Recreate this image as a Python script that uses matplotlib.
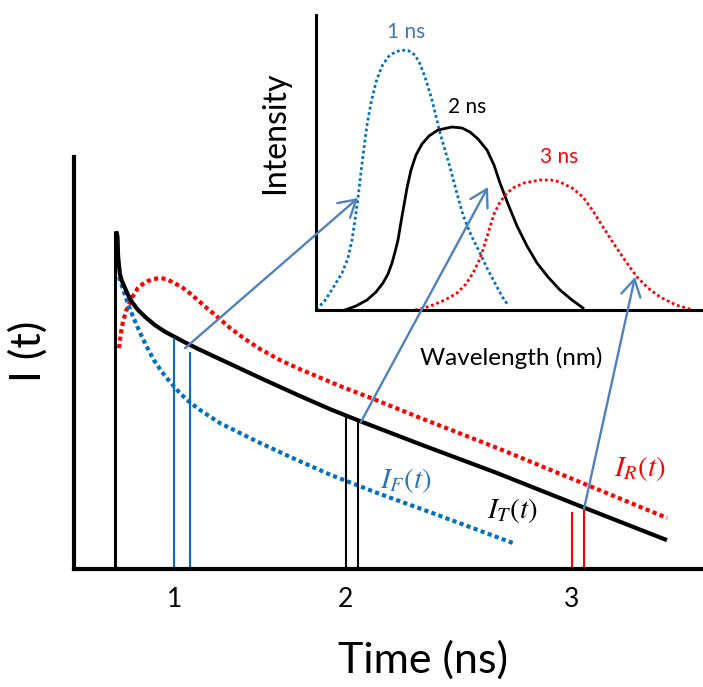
import matplotlib
matplotlib.use("Agg")
import matplotlib.pyplot as plt
from matplotlib.patches import ConnectionPatch

plt.rcParams['font.family'] = ['Lato', 'DejaVu Sans']
plt.rcParams['mathtext.fontset'] = 'stix'

# ---- time-resolved decay curves (time in ns, intensity in a.u.) ----
t_total = [0.655, 0.662, 0.665, 0.671, 0.676, 0.688, 0.706, 0.724, 0.747, 0.782,
           0.824, 0.882, 0.941, 1.000, 1.059, 1.147, 1.235, 1.324, 1.500, 1.735,
           1.912, 2.088, 2.441, 2.894, 3.412, 3.894]
i_total = [82.0, 80.6, 76.2, 73.5, 71.6, 69.9, 68.2, 66.5, 64.8, 62.9,
           61.2, 59.2, 57.6, 56.3, 55.0, 53.2, 51.5, 49.8, 46.4, 42.0,
           38.8, 35.9, 30.3, 23.3, 14.8, 7.0]

t_relaxed = [0.671, 0.682, 0.694, 0.712, 0.735, 0.759, 0.782, 0.812, 0.841, 0.876,
             0.912, 0.947, 0.982, 1.018, 1.047, 1.094, 1.147, 1.188, 1.235, 1.324,
             1.412, 1.500, 1.618, 1.735, 1.971, 2.165, 2.441, 2.912, 3.441, 3.894]
i_relaxed = [53.6, 57.3, 60.0, 62.6, 64.8, 66.7, 68.2, 69.2, 69.9, 70.4,
             70.6, 70.4, 69.7, 68.9, 68.2, 66.7, 64.8, 63.3, 61.7, 58.5,
             55.8, 53.4, 50.7, 48.5, 44.4, 41.3, 36.7, 29.1, 20.1, 12.4]

t_franck = [0.671, 0.688, 0.706, 0.724, 0.747, 0.782, 0.812, 0.835, 0.876, 0.924,
            0.971, 1.018, 1.071, 1.147, 1.265, 1.500, 1.694, 1.912, 2.206, 2.500,
            2.988]
i_franck = [70.9, 68.7, 66.5, 64.3, 61.9, 58.5, 55.8, 53.9, 50.7, 47.8,
            45.4, 43.2, 41.0, 38.6, 35.4, 30.6, 26.9, 22.9, 18.2, 13.8,
            6.3]

# excitation pulse
t_pulse = 0.647
i_pulse = 82.0

# gate windows (pairs of times) and the heights of their gate lines
gate_times = [[0.996, 1.088], [2.004, 2.079], [3.337, 3.406]]
gate_tops = [[56.1, 52.7], [37.0, 35.8], [13.8, 14.6]]
gate_colors = ['#0070C0', '#000000', '#FF0000']

tick_times = [1.0, 2.0, 3.335]
tick_labels = ['1', '2', '3']

# ---- time-resolved spectra (wavelength and intensity in a.u.) ----
w_1ns = [0, 8, 17, 26, 32, 36, 39, 42, 45, 48, 51, 55, 60, 66, 72, 79, 86, 93,
         99, 104, 109, 116, 124, 134, 140, 147, 155, 164, 172, 181, 187, 192]
s_1ns = [1, 8, 22, 37, 52, 70, 90, 112, 138, 162, 185, 207, 228, 244, 253, 258, 260, 259,
         255, 246, 233, 210, 177, 143, 120, 95, 75, 57, 40, 23, 12, 5]

w_2ns = [29, 40, 51, 60, 67, 72, 76, 79, 82, 85, 88, 91, 95, 100, 106, 113, 122,
         136, 146, 154, 162, 171, 178, 184, 192, 201, 211, 221, 232, 244, 256, 267]
s_2ns = [0, 4, 10, 18, 27, 36, 47, 58, 70, 88, 105, 122, 140, 155, 166, 174, 180,
         183, 182, 178, 171, 160, 145, 127, 106, 84, 64, 47, 33, 20, 10, 2]

w_3ns = [99, 108, 117, 129, 141, 150, 157, 162, 166, 170, 174, 178, 183, 189, 197, 208,
         224, 235, 244, 256, 267, 277, 287, 296, 304, 313, 321, 332, 344, 360, 377]
s_3ns = [0, 2, 5, 10, 17, 26, 37, 47, 57, 70, 83, 96, 106, 115, 122, 127,
         130, 130, 128, 122, 113, 99, 83, 69, 57, 44, 33, 22, 13, 5, 0]

spec_labels = ['1 ns', '2 ns', '3 ns']

# arrows: gate point on I_T(t) -> point on the matching spectrum
arrow_from = [(1.059, 53.6), (2.094, 35.7), (3.406, 14.6)]
arrow_to = [(42, 112), (172, 123), (319, 33)]

W, H = 703, 687
fig = plt.figure(figsize=(W / 100, H / 100), dpi=100)

# main decay axes
ax = fig.add_axes([74 / W, (H - 569) / H, (W - 74) / W, (569 - 157) / H])
ax.set_xlim(0.406, 4.106)
ax.set_ylim(0, 100)
for s in ['top', 'right']:
    ax.spines[s].set_visible(False)
for s in ['left', 'bottom']:
    ax.spines[s].set_linewidth(3)
ax.set_yticks([])
ax.set_xticks(tick_times)
ax.set_xticklabels(tick_labels)
ax.tick_params(axis='x', length=0, pad=13, labelsize=19)

ax.vlines(t_pulse, 0, i_pulse, color='black', lw=2.2)
ax.plot(t_relaxed, i_relaxed, color='#FF0000', lw=3, ls=(0, (1, 0.8)))
ax.plot(t_franck, i_franck, color='#0070C0', lw=3, ls=(0, (1, 0.8)))
ax.plot(t_total, i_total, color='black', lw=3, solid_capstyle='butt',
        solid_joinstyle='round')

for ts, tops, c in zip(gate_times, gate_tops, gate_colors):
    for tt, top in zip(ts, tops):
        ax.vlines(tt, 0, top, color=c, lw=1.5)

ax.text(2.359, 21.4, r'$I_F(t)$', color='#2E75B6', fontsize=21, ha='center', va='center')
ax.text(2.982, 14.1, r'$I_T(t)$', color='black', fontsize=21, ha='center', va='center')
ax.text(3.735, 24.5, r'$I_R(t)$', color='#FF0000', fontsize=21, ha='center', va='center')

# spectra inset
ins = fig.add_axes([316 / W, (H - 310) / H, (W - 316) / W, (310 - 15) / H])
ins.set_facecolor('none')
ins.set_xlim(0, 387)
ins.set_ylim(0, 295)
for s in ['top', 'right']:
    ins.spines[s].set_visible(False)
for s in ['left', 'bottom']:
    ins.spines[s].set_linewidth(2.2)
ins.set_xticks([])
ins.set_yticks([])
ins.plot(w_1ns, s_1ns, color='#0070C0', lw=2, ls=(0, (1, 1)), clip_on=False)
ins.plot(w_2ns, s_2ns, color='black', lw=2, clip_on=False, solid_joinstyle='round')
ins.plot(w_3ns, s_3ns, color='#FF0000', lw=2, ls=(0, (1, 1)), clip_on=False)

ins.text(90, 278, spec_labels[0], color='#4472C4', fontsize=15, ha='center', va='center')
ins.text(151, 203, spec_labels[1], color='black', fontsize=15, ha='center', va='center')
ins.text(243, 153, spec_labels[2], color='#FF0000', fontsize=15, ha='center', va='center')
ins.text(195, -48, 'Wavelength (nm)', fontsize=17.5, ha='center', va='center')
ins.text(-41, 177, 'Intensity', fontsize=23, rotation=90, ha='center', va='center')

for (t0, i0), (w1, s1) in zip(arrow_from, arrow_to):
    con = ConnectionPatch(xyA=(t0, i0), coordsA=ax.transData,
                          xyB=(w1, s1), coordsB=ins.transData,
                          arrowstyle='->,head_length=0.6,head_width=0.35',
                          mutation_scale=20, color='#4F81BD', lw=1.7)
    fig.add_artist(con)

fig.text(28 / W, 1 - 351 / H, 'I (t)', fontsize=31, rotation=90, ha='center', va='center')
fig.text(423 / W, 1 - 660 / H, 'Time (ns)', fontsize=31, ha='center', va='center')

fig.savefig('out.png', dpi=100)
